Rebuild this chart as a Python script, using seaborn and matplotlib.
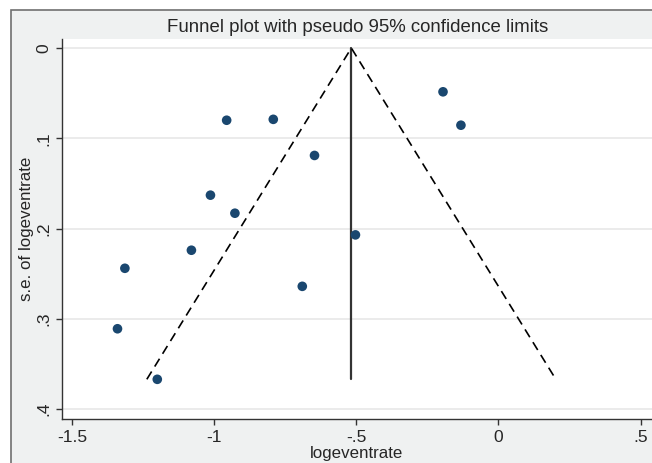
import numpy as np
import pandas as pd
import matplotlib
matplotlib.use("Agg")
import matplotlib.pyplot as plt
import seaborn as sns
from matplotlib.patches import Rectangle

# Data
logeventrate = [-0.195, -0.132, -0.956, -0.792, -0.647, -1.013, -0.927,
                -0.503, -1.080, -1.314, -0.690, -1.340, -1.200]
se_logeventrate = [0.0485, 0.0855, 0.080, 0.079, 0.119, 0.163, 0.183,
                   0.207, 0.224, 0.244, 0.264, 0.311, 0.367]
pooled_estimate = -0.5175
xticks = [-1.5, -1.0, -0.5, 0.0, 0.5]
xticklabels = ["-1.5", "-1", "-.5", "0", ".5"]
yticks = [0.0, 0.1, 0.2, 0.3, 0.4]
yticklabels = ["0", ".1", ".2", ".3", ".4"]

df = pd.DataFrame({"logeventrate": logeventrate, "se": se_logeventrate})

sns.set_theme(style="white")
plt.rcParams["font.family"] = ["Liberation Sans", "DejaVu Sans"]

W, H = 652, 463
fig = plt.figure(figsize=(W / 100, H / 100), dpi=100, facecolor="white")

# outer gray graph region with border
fig.patches.append(Rectangle((11 / W, -0.1), 1.2, 1.1 - 10 / H, transform=fig.transFigure,
                             facecolor="#eff1f1", edgecolor="#707070", linewidth=1.2,
                             zorder=-10))

left, right = 62.0 / W, 1.0
bottom, top = 1 - 419.3 / H, 1 - 39 / H
ax = fig.add_axes([left, bottom, right - left, top - bottom])
ax.set_zorder(5)
ax.set_facecolor("white")

# grid lines
for yt in yticks:
    ax.axhline(yt, color="#e8e8e8", linewidth=1.2, zorder=0)

# funnel lines
se_max = max(se_logeventrate)
ax.plot([pooled_estimate, pooled_estimate], [0, se_max], color="#333333", linewidth=1.6, zorder=2)
ax.plot([pooled_estimate - 1.96 * se_max, pooled_estimate, pooled_estimate + 1.96 * se_max],
        [se_max, 0, se_max], color="black", linewidth=1.2, linestyle=(0, (5.5, 3.5)), zorder=2)

sns.scatterplot(data=df, x="logeventrate", y="se", ax=ax, color="#1a476f",
                s=48, edgecolor="none", linewidth=0, zorder=3)

ax.set_xlim(-1.5 - 10 / 284.3, -1.5 + (652 - 72) / 284.3)
ax.set_ylim(0.4113, -0.0100)

ax.set_xticks(xticks)
ax.set_xticklabels(xticklabels, fontsize=12.5)
ax.set_yticks(yticks)
ax.set_yticklabels(yticklabels, fontsize=12.5, rotation=90, va="center")

ax.tick_params(axis="both", direction="out", length=4, width=1, color="#333333",
               pad=3.5, bottom=True, left=True)

for s in ["top", "right"]:
    ax.spines[s].set_visible(False)
for s in ["left", "bottom"]:
    ax.spines[s].set_color("#333333")
    ax.spines[s].set_linewidth(1.0)

ax.set_xlabel("logeventrate", fontsize=12.2, labelpad=1)
ax.set_ylabel("s.e. of logeventrate", fontsize=12.2, labelpad=2)

fig.text(358 / W, 1 - 26 / H, "Funnel plot with pseudo 95% confidence limits",
         ha="center", va="center_baseline", fontsize=13.4)

fig.savefig("out.png", dpi=100, facecolor="white")
